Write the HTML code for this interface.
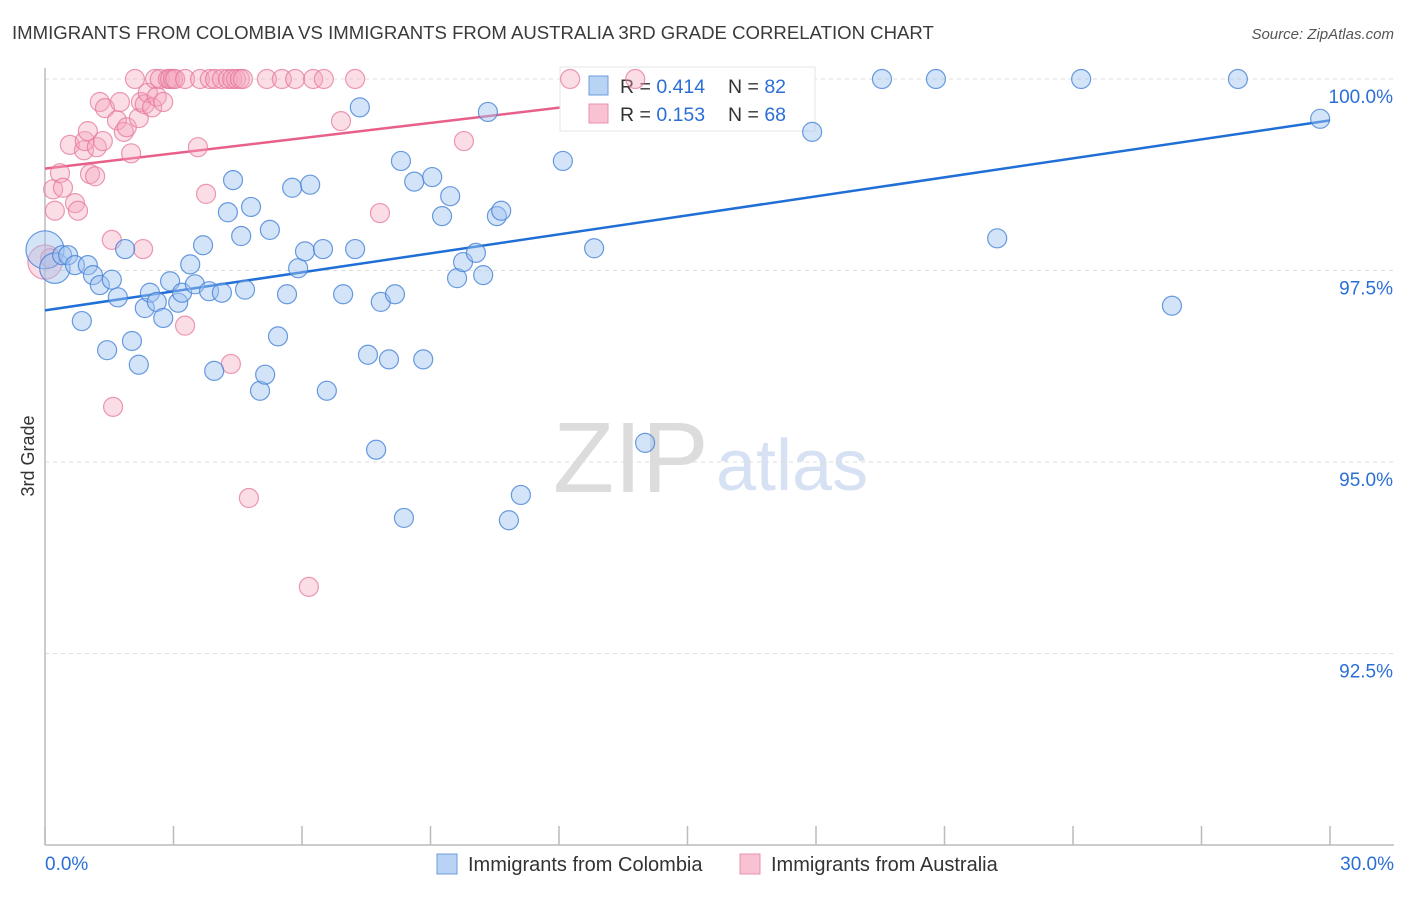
<!DOCTYPE html>
<html><head><meta charset="utf-8"><style>
body{margin:0;background:#fff;font-family:"Liberation Sans",sans-serif;}
svg text{font-family:"Liberation Sans",sans-serif;}
</style></head><body>
<svg id="chart" width="1406" height="892" viewBox="0 0 1406 892" xmlns="http://www.w3.org/2000/svg">
<text x="12" y="39" font-size="18.6" fill="#3a3a3a">IMMIGRANTS FROM COLOMBIA VS IMMIGRANTS FROM AUSTRALIA 3RD GRADE CORRELATION CHART</text>
<text x="1394" y="39" font-size="15" fill="#555" font-style="italic" text-anchor="end">Source: ZipAtlas.com</text>
<g>
<text x="553" y="492" font-size="100" fill="#dcdcdc" font-family="Liberation Serif,serif">ZIP</text>
<text x="716" y="490" font-size="72" fill="#d6e2f3">atlas</text>
</g>
<g id="grid"></g>
<g id="axes"></g>
<g id="trend"></g>
<g id="legend">
<rect x="560" y="67" width="255" height="64" fill="#fff" stroke="#e4e4e4"/>
<rect x="589" y="76" width="19" height="19" fill="#b9d3f5" stroke="#6c9be0"/>
<text x="620" y="93" font-size="19.5" fill="#333">R = <tspan fill="#2b6fd6">0.414</tspan></text>
<text x="728" y="93" font-size="19.5" fill="#333">N = <tspan fill="#2b6fd6">82</tspan></text>
<rect x="589" y="104" width="19" height="19" fill="#f8c2d3" stroke="#ea90ad"/>
<text x="620" y="121" font-size="19.5" fill="#333">R = <tspan fill="#2b6fd6">0.153</tspan></text>
<text x="728" y="121" font-size="19.5" fill="#333">N = <tspan fill="#2b6fd6">68</tspan></text>
</g>
<g id="pts"></g>
<g>
<rect x="437" y="854" width="20" height="20" fill="#b9d3f5" stroke="#6c9be0"/>
<text x="468" y="871" font-size="20" fill="#333">Immigrants from Colombia</text>
<rect x="740" y="854" width="20" height="20" fill="#f8c2d3" stroke="#ea90ad"/>
<text x="771" y="871" font-size="20" fill="#333">Immigrants from Australia</text>
</g>
<text transform="translate(34,456) rotate(-90)" font-size="18" fill="#333" text-anchor="middle">3rd Grade</text>
</svg>
<script>
const yTicks=[100,97.5,95,92.5];
const yTickLabels=["100.0%","97.5%","95.0%","92.5%"];
const xTicks=[0,3,6,9,12,15,18,21,24,27,30];
const xEndLabels=["0.0%","30.0%"];
const blueX=[0,0.23,0.40,0.54,0.70,0.86,1.00,1.12,1.28,1.45,1.56,1.70,1.87,2.03,2.19,2.33,2.45,2.61,2.76,2.92,3.11,3.20,3.39,3.50,3.69,3.83,3.95,4.13,4.39,4.27,4.58,4.67,4.81,5.02,5.14,5.25,5.44,5.65,5.77,5.91,6.07,6.19,6.49,6.58,6.96,7.24,7.35,7.54,7.73,7.84,8.03,8.17,8.31,8.38,8.62,8.83,9.04,9.27,9.46,9.62,9.76,10.06,10.23,10.55,10.65,10.34,10.83,11.11,12.09,12.82,14.01,17.91,19.54,20.80,22.23,24.19,26.31,27.85,29.77];
const blueY=[97.77,97.53,97.70,97.70,97.57,96.84,97.57,97.44,97.31,96.46,97.38,97.15,97.78,96.58,96.27,97.01,97.21,97.09,96.88,97.36,97.08,97.21,97.58,97.32,97.83,97.23,96.19,97.21,98.68,98.26,97.95,97.25,98.33,95.93,96.14,98.03,96.64,97.19,98.58,97.53,97.75,98.62,97.78,95.93,97.19,97.78,99.63,96.40,95.16,97.09,96.34,97.19,98.93,94.27,98.66,96.34,98.72,98.21,98.47,97.40,97.61,97.73,97.44,98.21,98.28,99.57,94.24,94.57,98.93,97.79,95.25,99.31,100,100,97.92,100,97.04,100,99.48];
const blueSize=[2,1.6];
const pinkX=[0,0.12,0.23,0.19,0.35,0.42,0.58,0.70,0.77,0.91,0.93,1.00,1.05,1.17,1.21,1.28,1.35,1.40,1.56,1.59,1.68,1.75,1.84,1.91,2.01,2.10,2.19,2.24,2.33,2.40,2.50,2.57,2.61,2.68,2.76,2.87,2.92,2.99,3.04,3.27,3.27,3.57,3.62,3.76,3.85,3.97,4.13,4.27,4.34,4.37,4.46,4.55,4.62,4.76,5.18,5.53,5.84,6.16,6.26,6.51,6.91,7.24,7.82,9.78,12.26,13.78,2.29];
const pinkY=[97.61,97.66,98.28,98.56,98.77,98.58,99.14,98.38,98.28,99.07,99.19,99.32,98.76,98.73,99.11,99.70,99.19,99.62,97.90,95.72,99.46,99.70,99.31,99.37,99.03,100,99.49,99.70,99.67,99.82,99.63,100,99.77,100,99.70,100,100,100,100,96.78,100,99.11,100,98.50,100,100,100,100,96.28,100,100,100,100,94.53,100,100,100,93.37,100,100,99.45,100,98.25,99.19,100,100,97.78];
const pinkSize=[1.8];
const blueTrend=[[0,96.98],[30,99.46]];
const pinkTrend=[[0,98.83],[15.53,99.86]];
const NS="http://www.w3.org/2000/svg";
const xs=v=>45+v/30*1285;
const ys=v=>79+(100-v)/2.5*191.5;
function mk(t,a,p){const e=document.createElementNS(NS,t);for(const k in a)e.setAttribute(k,a[k]);p.appendChild(e);return e;}
const grid=document.getElementById('grid'),axes=document.getElementById('axes'),pts=document.getElementById('pts'),tr=document.getElementById('trend');
yTicks.forEach((v,i)=>{
 const l=mk('line',{x1:45,x2:1394,y1:ys(v),y2:ys(v),stroke:'#ddd','stroke-dasharray':'4,4'},grid);
 
 
 const t=mk('text',{x:1393,y:ys(v)+24,'font-size':19,fill:'#2b6fd6','text-anchor':'end'},axes);
 t.textContent=yTickLabels[i];
 
 
});
const ya=mk('line',{x1:45,x2:45,y1:68,y2:845,stroke:'#bbb','stroke-width':1.5},axes);


const xa=mk('line',{x1:45,x2:1394,y1:845,y2:845,stroke:'#bbb','stroke-width':1.5},axes);


xTicks.forEach(v=>{
 const t=mk('line',{x1:xs(v),x2:xs(v),y1:826,y2:845,stroke:'#bbb','stroke-width':1.5},axes);
 
 
});
const xl0=mk('text',{x:45,y:870,'font-size':19,fill:'#2b6fd6'},axes);xl0.textContent=xEndLabels[0];


const xl1=mk('text',{x:1394,y:870,'font-size':19,fill:'#2b6fd6','text-anchor':'end'},axes);xl1.textContent=xEndLabels[1];


function dots(X,Y,S,fill,stroke,name){
 X.forEach((x,i)=>{
  const r=9.5*(S[i]||1);
  const c=mk('circle',{cx:xs(x),cy:ys(Y[i]),r:r,fill:fill,stroke:stroke,'stroke-width':1.2},pts);
  
  
 });
}
dots(pinkX,pinkY,pinkSize,'rgba(245,165,190,0.38)','rgba(230,120,155,0.75)','australia-point');
dots(blueX,blueY,blueSize,'rgba(160,195,240,0.45)','rgba(70,130,215,0.8)','colombia-point');
const bl=mk('line',{x1:xs(blueTrend[0][0]),y1:ys(blueTrend[0][1]),x2:xs(blueTrend[1][0]),y2:ys(blueTrend[1][1]),stroke:'#1f6fd6','stroke-width':2.5},tr);


const pl=mk('line',{x1:xs(pinkTrend[0][0]),y1:ys(pinkTrend[0][1]),x2:xs(pinkTrend[1][0]),y2:ys(pinkTrend[1][1]),stroke:'#e8608a','stroke-width':2.5},tr);


</script>
</body></html>
